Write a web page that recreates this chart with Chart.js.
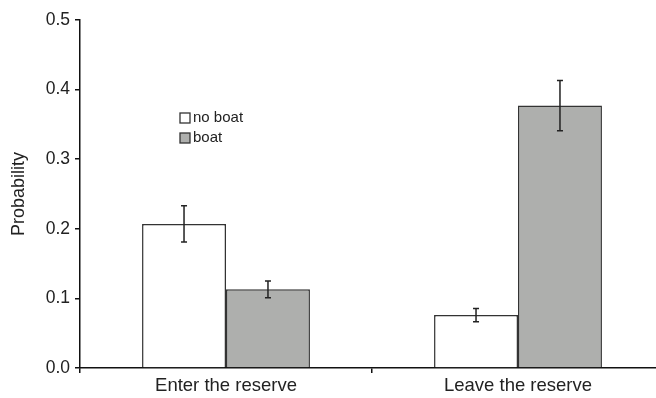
<!DOCTYPE html>
<html>
<head>
<meta charset="utf-8">
<script src="https://cdn.jsdelivr.net/npm/chart.js@4/dist/chart.umd.min.js"></script>
<style>
  html, body { margin: 0; padding: 0; background: #fff; overflow: hidden; }
  #wrap { width: 656px; height: 398px; overflow: hidden; }
  #box { width: 668px; height: 398px; }
</style>
</head>
<body>
<div id="wrap"><div id="box"><canvas id="chart"></canvas></div></div>
<script>
var categories = ["Enter the reserve", "Leave the reserve"];
var noBoat = [0.207, 0.076];
var noBoatErr = [0.026, 0.0095];
var boat = [0.113, 0.377];
var boatErr = [0.012, 0.036];
var yTicks = [0, 0.1, 0.2, 0.3, 0.4, 0.5];

var errorBars = {
    id: 'errorBars',
    afterDatasetsDraw: function (chart) {
        var ctx = chart.ctx;
        var y = chart.scales.y;
        ctx.save();
        ctx.strokeStyle = '#222';
        ctx.lineWidth = 1.5;
        chart.data.datasets.forEach(function (ds, i) {
            var meta = chart.getDatasetMeta(i);
            meta.data.forEach(function (bar, j) {
                var v = ds.data[j], e = ds.errors[j];
                var top = y.getPixelForValue(v + e);
                var bot = y.getPixelForValue(v - e);
                ctx.beginPath();
                ctx.moveTo(bar.x, top); ctx.lineTo(bar.x, bot);
                ctx.moveTo(bar.x - 3, top); ctx.lineTo(bar.x + 3, top);
                ctx.moveTo(bar.x - 3, bot); ctx.lineTo(bar.x + 3, bot);
                ctx.stroke();
            });
        });
        ctx.restore();
    }
};

var boxLegend = {
    id: 'boxLegend',
    afterDraw: function (chart) {
        var ctx = chart.ctx;
        var x0 = chart.chartArea.left + 100;
        var y0 = chart.chartArea.top + 98;
        ctx.save();
        ctx.font = '15px "Liberation Sans", Arial, sans-serif';
        ctx.textBaseline = 'middle';
        chart.data.datasets.forEach(function (ds, i) {
            var yy = y0 + i * 20;
            ctx.fillStyle = ds.backgroundColor;
            ctx.fillRect(x0, yy - 5, 10, 10);
            ctx.strokeStyle = '#333';
            ctx.lineWidth = 1.3;
            ctx.strokeRect(x0, yy - 5, 10, 10);
            ctx.fillStyle = '#222';
            ctx.fillText(ds.label, x0 + 13, yy);
        });
        ctx.restore();
    }
};

var ctx = document.getElementById('chart').getContext('2d');
var chart = new Chart(ctx, {
    type: 'bar',
    data: {
        labels: categories,
        datasets: [{
            label: 'no boat',
            data: noBoat,
            errors: noBoatErr,
            backgroundColor: '#ffffff',
            borderColor: '#333333',
            borderWidth: 1.5,
            categoryPercentage: 0.575,
            barPercentage: 1.0
        }, {
            label: 'boat',
            data: boat,
            errors: boatErr,
            backgroundColor: '#aeafad',
            borderColor: '#333333',
            borderWidth: 1.5,
            categoryPercentage: 0.575,
            barPercentage: 1.0
        }]
    },
    options: {
        responsive: true,
        maintainAspectRatio: false,
        animation: false,
        layout: { padding: { top: 20, left: 0, right: 4, bottom: 0 } },
        plugins: { legend: { display: false }, tooltip: { enabled: false } },
        scales: {
            x: {
                grid: { display: true, offset: true, drawOnChartArea: false, drawTicks: true, tickLength: 5, color: '#111', lineWidth: 1.5 },
                border: { color: '#111', width: 1.5 },
                ticks: { color: '#222', font: { family: '"Liberation Sans", Arial, sans-serif', size: 18.5 }, padding: 2 },
                afterFit: function (s) { s.height = 30; }
            },
            y: {
                min: 0, max: 0.5,
                afterBuildTicks: function (s) { s.ticks = yTicks.map(function (v) { return { value: v }; }); },
                grid: { display: true, drawOnChartArea: false, drawTicks: true, tickLength: 5, color: '#111', lineWidth: 1.5 },
                border: { color: '#111', width: 1.5 },
                ticks: {
                    color: '#222', padding: 5,
                    font: { family: '"Liberation Sans", Arial, sans-serif', size: 17.5 },
                    callback: function (v) { return v.toFixed(1); }
                },
                title: { display: true, text: 'Probability', color: '#222', padding: { top: 8, bottom: 0 }, font: { family: '"Liberation Sans", Arial, sans-serif', size: 18 } },
                afterFit: function (s) { s.width = 80; }
            }
        }
    },
    plugins: [errorBars, boxLegend]
});
</script>
</body>
</html>
